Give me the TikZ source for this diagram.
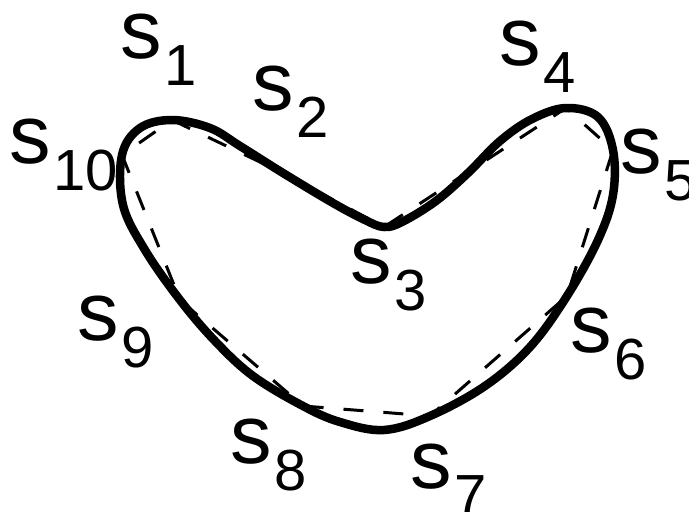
\documentclass[tikz,border=0pt]{standalone}
\usepackage{fontspec}
\setmainfont{Liberation Sans}
\usepackage{tikz}
\usetikzlibrary{positioning, calc}

\newcommand{\slabel}[1]{s\hspace{3pt}\raisebox{-27pt}{\fontsize{58}{58}\selectfont #1}}

\begin{document}
\begin{tikzpicture}[
    x=1pt, y=-1pt,
    outline/.style={line width=8.5pt, black, line join=round},
    polygon/.style={line width=3pt, black, dash pattern=on 20pt off 20pt},
    lbl/.style={anchor=base west, inner sep=0pt, font=\fontsize{83}{83}\selectfont}
]
\useasboundingbox (0,0) rectangle (689,512);

% sample points on the contour
\coordinate (s1) at (172,120);
\coordinate (s2) at (283,173);
\coordinate (s3) at (384,227);
\coordinate (s4) at (566,108);
\coordinate (s5) at (613,150);
\coordinate (s6) at (567,296);
\coordinate (s7) at (430,416);
\coordinate (s8) at (303,406);
\coordinate (s9) at (180,300);
\coordinate (s10) at (122,155);

% closed contour
\draw[outline] plot[smooth cycle, tension=0.6] coordinates {
    (s1) (210,128) (240,146) (s2) (333,203) (365,220) (s3) (402,222)
    (436,201) (468,173) (500,141) (532,119) (s4) (598,117) (s5) (613,195)
    (598,240) (s6) (530,347) (485,386) (s7) (384,430) (340,422) (s8)
    (253,376) (215,341) (s9) (145,250) (123,205) (s10) (140,128)};

% polygon through the samples
\draw[polygon] (s1) -- (s2) -- (s3) -- (s4) -- (s5) -- (s6) -- (s7)
    -- (s8) -- (s9) -- (s10) -- cycle;

\node[lbl] (l1) at (120,58) {\slabel{1}};
\node[lbl] (l2) at (252,110) {\slabel{2}};
\node[lbl] (l3) at (350,283) {\slabel{3}};
\node[lbl] (l4) at (499,65) {\slabel{4}};
\node[lbl] (l5) at (620,173) {\slabel{5}};
\node[lbl] (l6) at (570,352) {\slabel{6}};
\node[lbl] (l7) at (410,488) {\slabel{7}};
\node[lbl] (l8) at (230,463) {\slabel{8}};
\node[lbl] (l9) at (77,340) {\slabel{9}};
\node[lbl] (l10) at (9,163) {\slabel{10}};
\end{tikzpicture}
\end{document}
